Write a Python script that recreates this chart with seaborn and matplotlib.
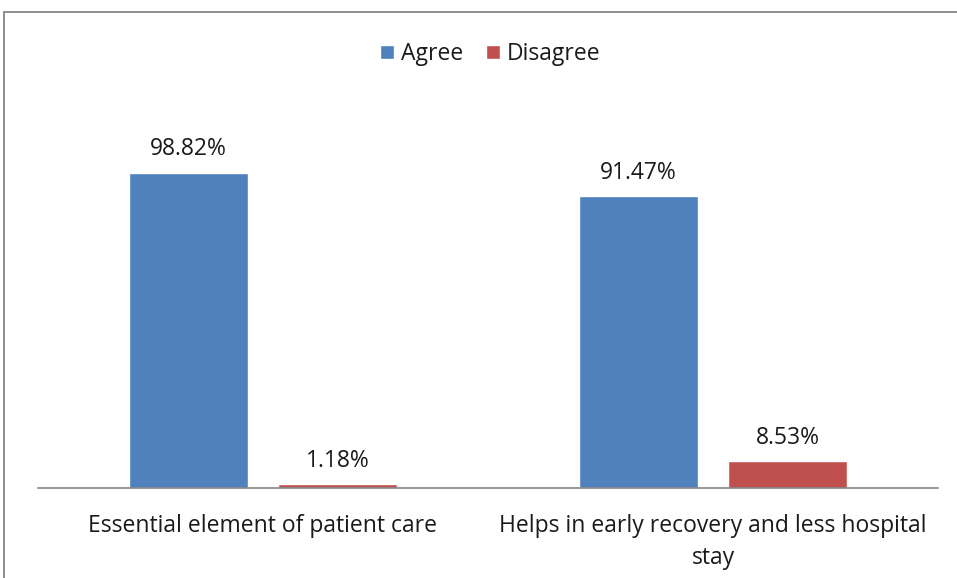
import pandas as pd
import matplotlib.pyplot as plt
import seaborn as sns
from matplotlib.patches import Rectangle

# data
categories = ['Essential element of patient care',
              'Helps in early recovery and less hospital\nstay']
agree = [98.82, 91.47]
disagree = [1.18, 8.53]
series = ['Agree', 'Disagree']

df = pd.DataFrame({
    'category': categories * 2,
    'response': ['Agree'] * 2 + ['Disagree'] * 2,
    'value': agree + disagree,
})

sns.set_theme(style='white')
plt.rcParams['font.family'] = ['Open Sans', 'DejaVu Sans']
fs = 16.5

fig = plt.figure(figsize=(9.57, 5.78), dpi=100)
ax = fig.add_axes([38 / 957, 1 - 488 / 578, 900 / 957, 383 / 578])

sns.barplot(data=df, x='category', y='value', hue='response',
            palette=['#4F81BD', '#C0504D'], width=0.665, gap=0.207,
            ax=ax, saturation=1)

for cont in ax.containers:
    ax.bar_label(cont, labels=[f'{v:.2f}%' for v in cont.datavalues],
                 padding=8, fontsize=fs, color='#1a1a1a')

ax.set_ylim(0, 120)
ax.set_xlim(-0.5, 1.5)
ax.set_xlabel('')
ax.set_ylabel('')
ax.set_yticks([])
ax.tick_params(axis='x', length=0, pad=19, labelsize=fs, labelcolor='#1a1a1a')
for lab in ax.get_xticklabels():
    lab.set_linespacing(1.45)
for s in ['top', 'right', 'left']:
    ax.spines[s].set_visible(False)
ax.spines['bottom'].set_color('#868686')
ax.spines['bottom'].set_linewidth(1.2)

leg = ax.legend(loc='center', bbox_to_anchor=(490 / 957, 1 - 54 / 578),
                bbox_transform=fig.transFigure, ncol=2, frameon=False,
                fontsize=fs, handlelength=0.6, handleheight=0.6,
                handletextpad=0.3, columnspacing=1.0)
for t in leg.get_texts():
    t.set_color('#1a1a1a')

# outer chart frame
fig.patches.append(Rectangle((4 / 957, -0.1), 1.2, (1 - 12 / 578) + 0.1,
                             transform=fig.transFigure, fill=False,
                             edgecolor='#868686', linewidth=1.3))

fig.savefig('out.png', dpi=100)
